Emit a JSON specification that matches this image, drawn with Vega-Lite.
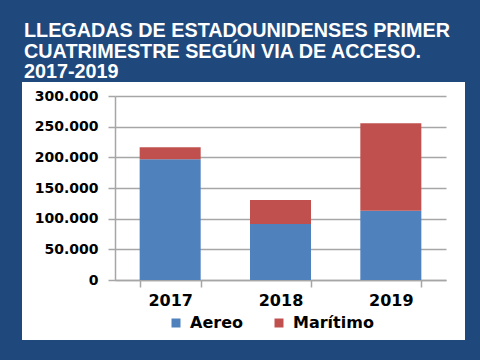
{
  "$schema": "https://vega.github.io/schema/vega-lite/v6.json",
  "width": 443,
  "height": 258,
  "autosize": {"type": "none"},
  "padding": {"left": 22, "top": 82, "right": 15, "bottom": 20},
  "background": "#1F497D",
  "title": {
    "text": ["LLEGADAS DE ESTADOUNIDENSES PRIMER", "CUATRIMESTRE SEGÚN VIA DE ACCESO.", "2017-2019"],
    "anchor": "start",
    "frame": "group",
    "color": "white",
    "font": "Liberation Sans",
    "fontSize": 19.8,
    "fontWeight": "bold",
    "lineHeight": 20.5,
    "offset": 0,
    "dx": 2
  },
  "config": {"view": {"fill": "white", "stroke": null}},
  "data": {
    "values": [
      {"year": "2017", "via": "Aereo", "value": 196800},
      {"year": "2017", "via": "Marítimo", "value": 19500},
      {"year": "2018", "via": "Aereo", "value": 91300},
      {"year": "2018", "via": "Marítimo", "value": 39100},
      {"year": "2019", "via": "Aereo", "value": 113000},
      {"year": "2019", "via": "Marítimo", "value": 142400}
    ]
  },
  "mark": {"type": "bar"},
  "encoding": {
    "x": {
      "field": "year",
      "type": "nominal",
      "scale": {"range": [93, 424], "paddingInner": 0.447, "paddingOuter": 0.2235},
      "axis": {
        "orient": "bottom",
        "offset": -60,
        "tickBand": "extent",
        "tickSize": 7,
        "tickColor": "#A6A6A6",
        "tickWidth": 1.5,
        "domainColor": "#A6A6A6",
        "domainWidth": 1.5,
        "labelFont": "DejaVu Sans",
        "labelFontSize": 16,
        "labelFontWeight": "bold",
        "labelColor": "black",
        "labelPadding": 5,
        "labelAngle": 0,
        "title": null,
        "grid": false
      }
    },
    "y": {
      "field": "value",
      "type": "quantitative",
      "stack": "zero",
      "scale": {"domain": [0, 300000], "range": [198, 14], "nice": false, "zero": true},
      "axis": {
        "values": [0, 50000, 100000, 150000, 200000, 250000, 300000],
        "offset": -93,
        "tickSize": 7,
        "tickColor": "#A6A6A6",
        "tickWidth": 1.5,
        "domainColor": "#A6A6A6",
        "domainWidth": 1.5,
        "grid": true,
        "gridColor": "#A6A6A6",
        "gridWidth": 1.5,
        "labelFont": "DejaVu Sans",
        "labelFontSize": 14,
        "labelFontWeight": "bold",
        "labelColor": "black",
        "labelPadding": 10,
        "labelExpr": "replace(format(datum.value, ','), ',', '.')",
        "title": null
      }
    },
    "order": {"field": "via", "sort": "ascending"},
    "color": {
      "field": "via",
      "type": "nominal",
      "scale": {"domain": ["Aereo", "Marítimo"], "range": ["#4F81BD", "#C0504D"]},
      "legend": {
        "orient": "none",
        "legendX": 146,
        "legendY": 233,
        "direction": "horizontal",
        "title": null,
        "symbolType": "square",
        "symbolSize": 81,
        "symbolStrokeWidth": 0,
        "labelFont": "DejaVu Sans",
        "labelFontSize": 16,
        "labelFontWeight": "bold",
        "labelColor": "black",
        "labelOffset": 6,
        "columnPadding": 28,
        "padding": 0
      }
    }
  }
}
